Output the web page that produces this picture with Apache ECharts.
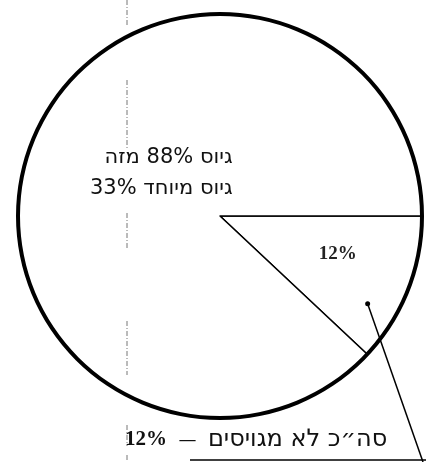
<!DOCTYPE html>
<html>
<head>
<meta charset="utf-8">
<script src="https://cdn.jsdelivr.net/npm/echarts@6/dist/echarts.min.js"></script>
<style>
  html, body { margin: 0; padding: 0; background: #fff; }
  #pie { width: 426px; height: 462px; }
</style>
</head>
<body>
<div id="pie"></div>
<script>
// נתונים
var sliceNames = ['לא מגויסים', 'גיוס'];
var sliceValues = [12, 88];
var specialShare = 33;
var specialName = 'גיוס מיוחד';
var totalLabel = 'סה״כ לא מגויסים';

var cx = 220, cy = 216, R = 202;

var chart = echarts.init(document.getElementById('pie'));

// קו מקווקו אנכי (סימן קיפול בסריקה)
var foldSegs = [[0, 26], [80, 149], [213, 248], [321, 375], [425, 446], [455, 462]];
var fold = foldSegs.map(function (s) {
  return {
    type: 'line', silent: true, z: 200,
    shape: { x1: 127, y1: s[0], x2: 127, y2: s[1] },
    style: { stroke: '#777', lineWidth: 1, lineDash: [5, 2, 1, 2] }
  };
});

// נקודת הקו המוביל בתוך הפלח הקטן
var a = 30.7 * Math.PI / 180;
var px = cx + 0.85 * R * Math.cos(a), py = cy + 0.85 * R * Math.sin(a);

chart.setOption({
  animation: false,
  backgroundColor: '#fff',
  series: [
    {
      type: 'pie',
      center: [cx, cy],
      radius: R,
      startAngle: 0,
      clockwise: true,
      silent: true,
      itemStyle: { color: '#fff', borderColor: '#000', borderWidth: 1.5 },
      labelLine: { show: false },
      data: [
        {
          name: sliceNames[0], value: sliceValues[0],
          label: {
            show: true, position: 'inside', offset: [21, 0],
            formatter: sliceValues[0] + '%',
            fontFamily: 'Liberation Serif', fontWeight: 'bold', fontSize: 19, color: '#222'
          }
        },
        {
          name: sliceNames[1], value: sliceValues[1],
          label: {
            show: true, position: 'inside', offset: [38, -5],
            formatter: '{a|' + sliceNames[1] + ' ' + sliceValues[1] + '% מזה}\n{a|' + specialName + ' ' + specialShare + '%}',
            rich: {
              a: { align: 'right', fontFamily: 'DejaVu Sans', fontSize: 21, lineHeight: 31, color: '#111' }
            }
          }
        }
      ]
    },
    {
      // קו המתאר העבה של העיגול
      type: 'pie',
      center: [cx, cy],
      radius: [R - 2, R + 2],
      silent: true,
      label: { show: false },
      labelLine: { show: false },
      itemStyle: { color: '#000' },
      data: [{ value: 1 }]
    }
  ],
  graphic: fold.concat([
    {
      type: 'circle', silent: true, z: 200,
      shape: { cx: px, cy: py, r: 2.5 },
      style: { fill: '#000' }
    },
    {
      type: 'line', silent: true, z: 200,
      shape: { x1: px, y1: py, x2: 423, y2: 462 },
      style: { stroke: '#000', lineWidth: 1.5 }
    },
    {
      type: 'line', silent: true,
      shape: { x1: 190, y1: 460, x2: 426, y2: 460 },
      style: { stroke: '#000', lineWidth: 1.5 }
    },
    {
      type: 'text', silent: true,
      left: 125, top: 428,
      style: {
        text: '{n|' + sliceValues[0] + '%}{d|  —  }{h|' + totalLabel + '}',
        rich: {
          n: { fontFamily: 'Liberation Serif', fontWeight: 'bold', fontSize: 21, fill: '#111' },
          d: { fontFamily: 'DejaVu Sans', fontSize: 18, fill: '#111' },
          h: { fontFamily: 'DejaVu Sans', fontSize: 24, fill: '#111' }
        }
      }
    }
  ])
});
</script>
</body>
</html>
